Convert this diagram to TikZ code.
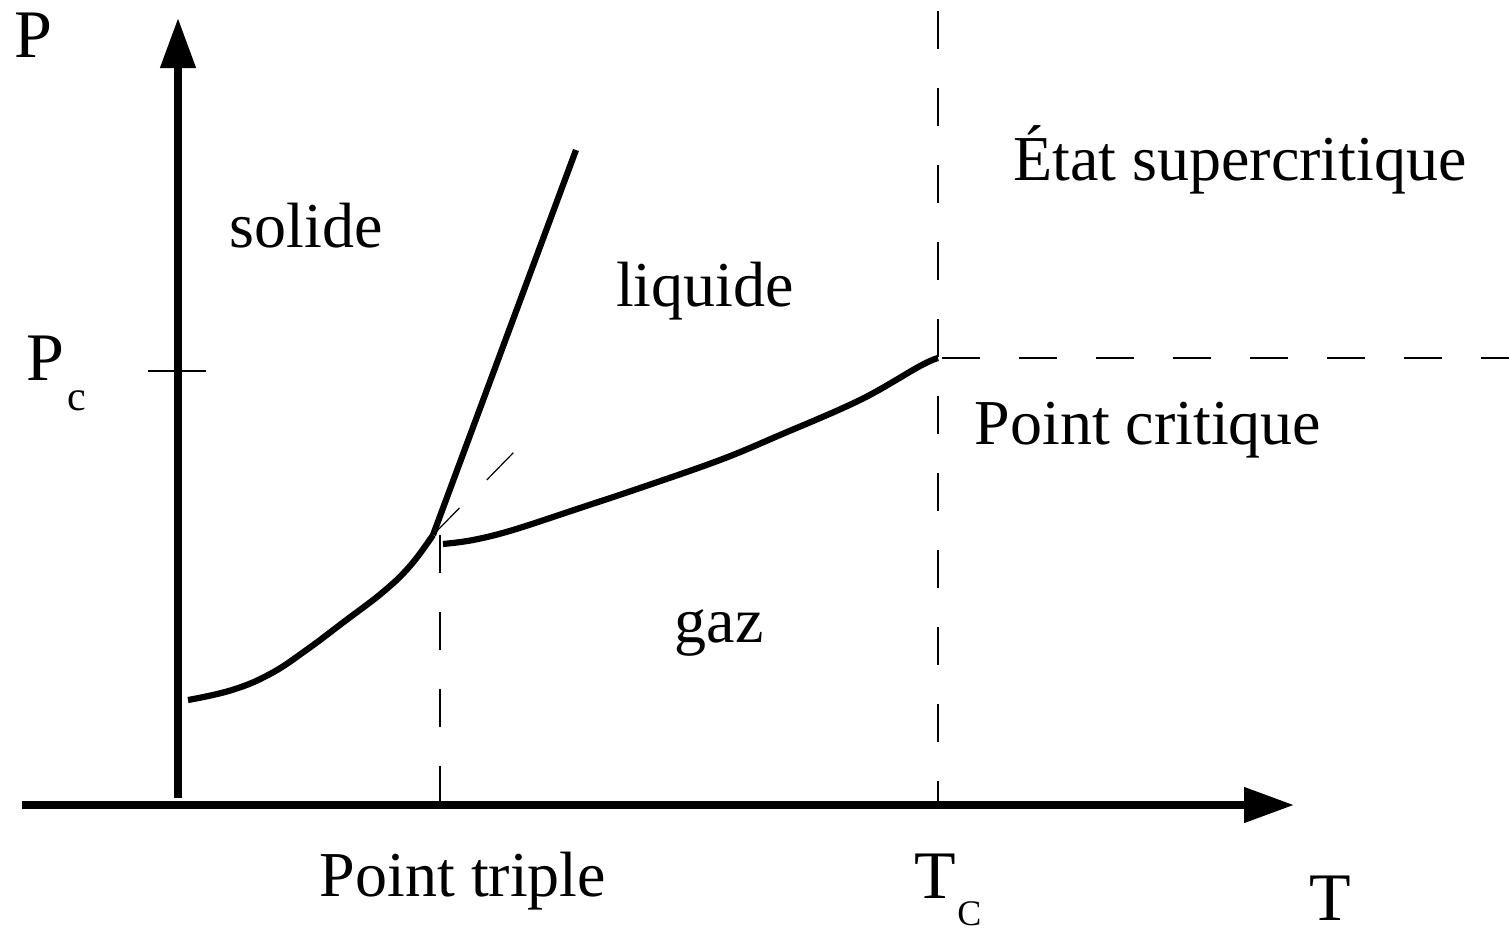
\documentclass[tikz,border=0pt]{standalone}
\usepackage{fontspec}
\setmainfont{Liberation Serif}
\usetikzlibrary{arrows.meta,calc}

\begin{document}
\begin{tikzpicture}[x=0.5pt,y=-0.5pt,
    every node/.style={inner sep=0pt,font=\fontsize{32}{36}\selectfont},
    grand/.style={font=\fontsize{34}{40}\selectfont},
    indice/.style={font=\fontsize{21}{24}\selectfont},
    axe/.style={line width=3.8pt,-{Triangle[length=25pt,width=17pt]}},
    courbe/.style={line width=3.1pt},
    repere/.style={line width=0.6pt,dash pattern=on 19pt off 19.5pt}]
  \useasboundingbox (0,0) rectangle (1509,933);
  % points remarquables
  \coordinate (ybas) at (178,798);
  \coordinate (yhaut) at (178,18);
  \coordinate (xgauche) at (22,805);
  \coordinate (xdroite) at (1294,805);
  \coordinate (triple) at (433,535);
  \coordinate (critique) at (938,358);
  \coordinate (fusion) at (576,150);

  % repères en tirets
  \draw[repere] (440,535) -- (440,805);
  \draw[repere] (938,11) -- (938,805);
  \draw[repere] (942,358) -- (1509,358);
  \draw[repere] (triple) -- (515,451);
  \draw[line width=0.6pt] (148,371) -- (206,371);

  % axes
  \draw[axe] (ybas) -- (yhaut);
  \draw[axe] (xgauche) -- (xdroite);

  % courbes d'équilibre
  \draw[courbe] plot[smooth,tension=0.7] coordinates {(188,700) (232,690) (270,674) (305,651) (345,621) (383,592) (410,566) (triple)};
  \draw[courbe] (triple) -- (fusion);
  \draw[courbe] plot[smooth,tension=0.6] coordinates {(443,544) (473,540) (513,530) (580,508) (640,488) (720,460) (780,435) (860,400) (920,366) (critique)};

  % textes
  \node[grand,anchor=base west] (P) at (14,57) {P};
  \node[grand,anchor=base west] (Pc) at (26,380) {P};
  \node[indice,anchor=base west] (Pcind) at (67,410) {c};
  \node[grand,anchor=base west] (Tc) at (914,898) {T};
  \node[indice,font=\fontsize{18}{22}\selectfont,anchor=base west] (Tcind) at (957,925) {C};
  \node[grand,anchor=base west] (T) at (1309,920) {T};
  \node[anchor=base] (solide) at (306,247) {solide};
  \node[anchor=base] (liquide) at (705,306) {liquide};
  \node[anchor=base] (gaz) at (719,642) {gaz};
  \node[anchor=base] (super) at (1240,180) {État supercritique};
  \node[anchor=base] (ptcrit) at (1148,444) {Point critique};
  \node[anchor=base] (pttriple) at (463,896) {Point triple};
\end{tikzpicture}
\end{document}
